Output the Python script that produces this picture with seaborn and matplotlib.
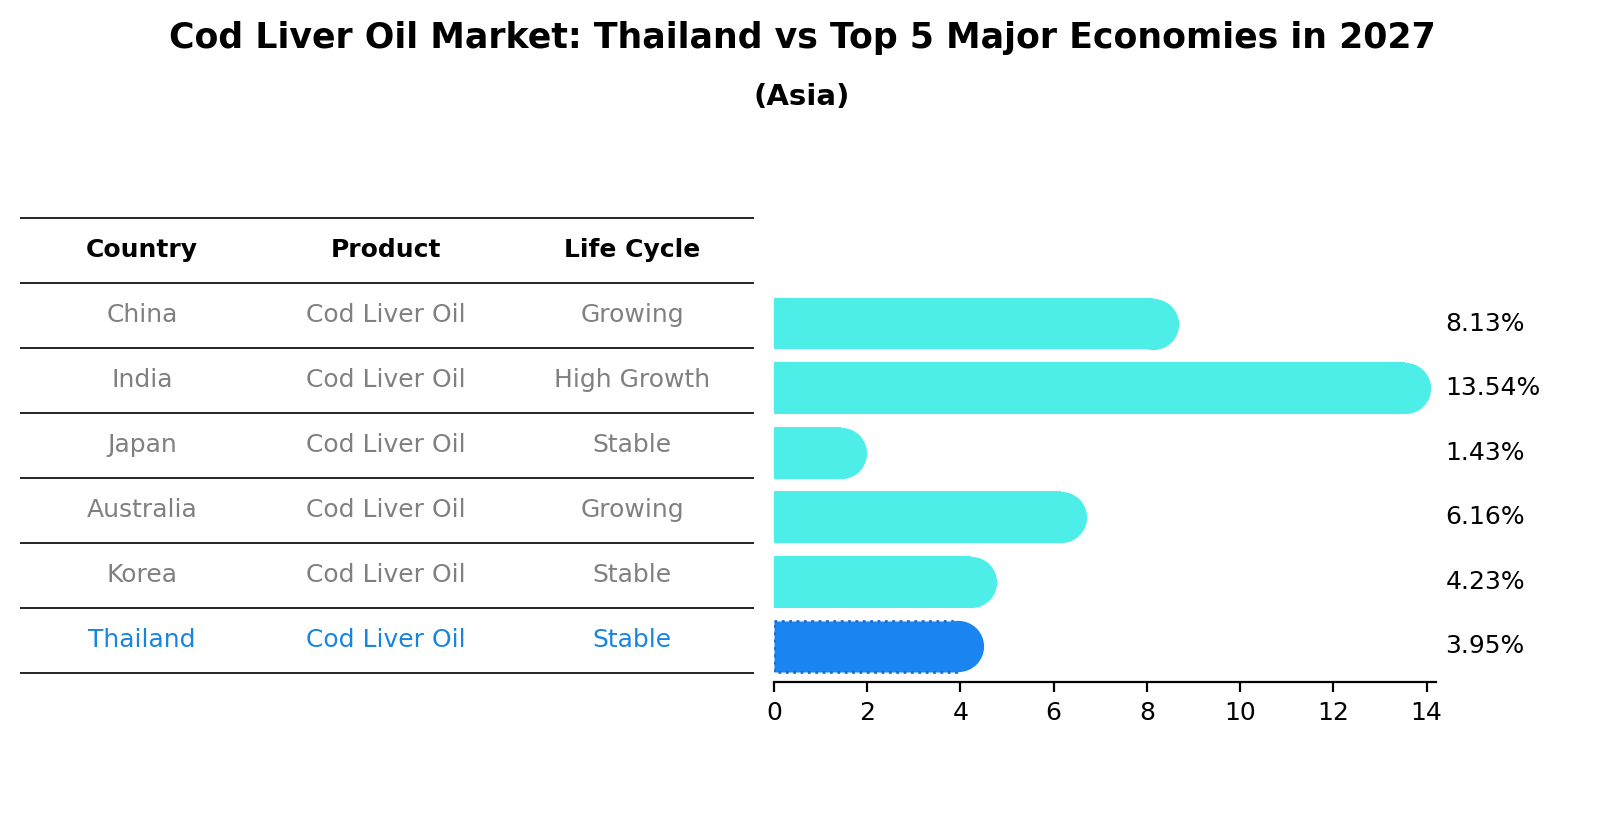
import matplotlib
matplotlib.use("Agg")
import matplotlib.pyplot as plt
import seaborn as sns
import pandas as pd

countries = ["China", "India", "Japan", "Australia", "Korea", "Thailand"]
products = ["Cod Liver Oil"] * 6
life_cycle = ["Growing", "High Growth", "Stable", "Growing", "Stable", "Stable"]
growth = [8.13, 13.54, 1.43, 6.16, 4.23, 3.95]
highlight = "Thailand"

W, H = 1604, 823
fig = plt.figure(figsize=(W / 200, H / 200), dpi=200)
fig.text(0.5, 1 - 38 / H, "Cod Liver Oil Market: Thailand vs Top 5 Major Economies in 2027",
         ha="center", va="center", fontsize=12.5, fontweight="bold")
fig.text(0.5, 1 - 97 / H, "(Asia)", ha="center", va="center", fontsize=10.5, fontweight="bold")

# table
tab = fig.add_axes([0, 0, 1, 1]); tab.set_xlim(0, W); tab.set_ylim(H, 0); tab.axis("off")
cols_x = [142, 386, 632]
tab.hlines([218, 283], 20, 754, color="black", lw=0.6)
for x, h in zip(cols_x, ["Country", "Product", "Life Cycle"]):
    tab.text(x, 250, h, ha="center", va="center", fontsize=9, fontweight="bold")
for i, (c, p, l) in enumerate(zip(countries, products, life_cycle)):
    yc = 315 + i * 65
    col = "#1a85e0" if c == highlight else "gray"
    for x, t in zip(cols_x, [c, p, l]):
        tab.text(x, yc, t, ha="center", va="center", fontsize=9, color=col)
    tab.hlines(yc + 33, 20, 754, color="black", lw=0.6)

# bars
ax = fig.add_axes([774 / W, 1 - 682 / H, (1436 - 774) / W, (682 - 288) / H])
df = pd.DataFrame({"country": countries, "growth": growth})
colors = ["#1a85f0" if c == highlight else "#4deee8" for c in countries]
sns.barplot(data=df, y="country", x="growth", hue="country", palette=colors,
            orient="h", width=0.8, ax=ax, legend=False, saturation=1)
for i, (v, c) in enumerate(zip(growth, colors)):
    ax.scatter([v], [i], s=340, color=c, marker="o", zorder=3, linewidths=0)
    ax.text(14.4, i, f"{v:.2f}%", va="center", ha="left", fontsize=9)
ax.patches[-1].set_edgecolor("#1a6fd0"); ax.patches[-1].set_linestyle(":"); ax.patches[-1].set_linewidth(1)
ax.set_xlim(0, 14.2)
ax.set_ylim(5.55, -0.55)
ax.set_xticks(range(0, 15, 2))
ax.set_yticks([]); ax.set_ylabel(""); ax.set_xlabel("")
ax.tick_params(axis="x", labelsize=9)
for s in ["top", "right", "left"]:
    ax.spines[s].set_visible(False)
fig.savefig("out.png", dpi=200)
